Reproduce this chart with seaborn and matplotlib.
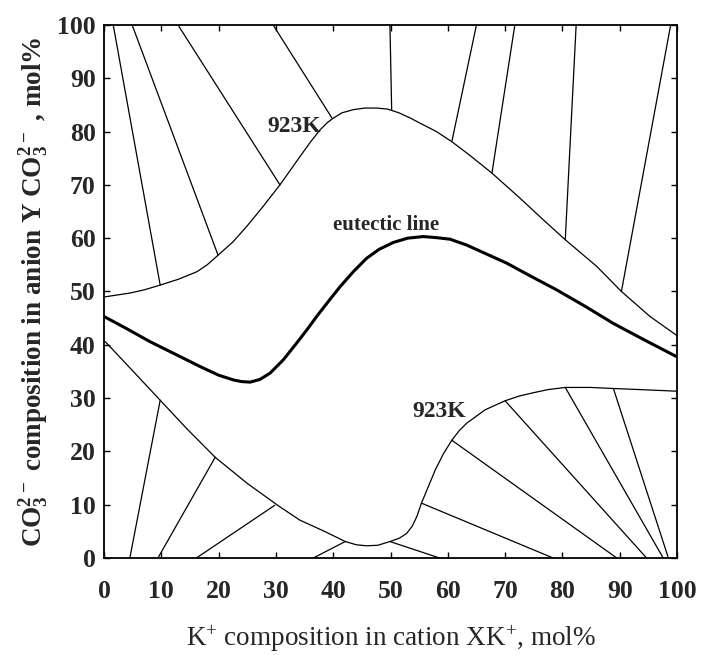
import numpy as np
import pandas as pd
import matplotlib
matplotlib.use("Agg")
import matplotlib.pyplot as plt
import seaborn as sns

# upper 923K liquidus
upper_x = [0.2, 4.5, 7.0, 9.8, 13.0, 16.2, 18.0, 19.9, 22.5, 24.9, 27.8, 30.7, 34.2, 36.0,
           37.7, 39.0, 40.0, 41.5, 43.5, 45.5, 47.6, 49.5, 51.5, 53.5, 55.1, 58.0, 60.7,
           64.0, 67.7, 72.6, 76.5, 80.5, 86.0, 90.3, 95.3, 99.9]
upper_y = [49.0, 49.7, 50.3, 51.2, 52.3, 53.7, 55.0, 56.8, 59.3, 62.2, 66.0, 70.0, 75.3, 78.0,
           80.3, 81.7, 82.5, 83.5, 84.1, 84.4, 84.4, 84.2, 83.5, 82.5, 81.6, 80.0, 78.1,
           75.4, 72.2, 67.5, 63.6, 59.7, 54.7, 50.0, 45.3, 41.8]

# eutectic line
eut_x = [0.0, 4.0, 8.0, 12.5, 16.8, 20.0, 22.6, 24.0, 25.5, 27.2, 29.0, 31.3, 33.6, 35.4,
         37.1, 39.2, 41.2, 43.5, 45.8, 48.0, 50.5, 53.0, 55.7, 58.0, 60.4, 63.3, 66.8,
         70.3, 74.6, 79.0, 84.0, 88.9, 94.5, 99.9]
eut_y = [45.3, 43.0, 40.6, 38.2, 35.9, 34.3, 33.4, 33.1, 33.0, 33.5, 34.7, 37.2, 40.3, 42.8,
         45.3, 48.2, 50.9, 53.7, 56.2, 57.9, 59.2, 60.0, 60.3, 60.1, 59.8, 58.7, 57.0,
         55.3, 52.8, 50.3, 47.2, 44.0, 40.8, 37.8]

# lower 923K liquidus
lower_x = [0.2, 5.1, 9.8, 14.5, 19.4, 25.0, 30.7, 34.2, 38.5, 42.1, 44.0, 45.8, 47.8, 49.9,
           51.5, 52.8, 53.8, 54.6, 55.4, 56.6, 57.8, 59.2, 60.7, 62.0, 63.3, 66.5, 70.0,
           72.5, 74.9, 77.5, 80.5, 85.0, 88.9, 93.5, 99.9]
lower_y = [40.6, 35.0, 29.6, 24.2, 18.9, 14.0, 9.6, 7.1, 5.0, 3.1, 2.5, 2.3, 2.4, 3.1,
           3.7, 4.6, 6.0, 7.8, 10.3, 13.4, 16.5, 19.5, 22.1, 23.9, 25.3, 27.8, 29.5,
           30.4, 31.0, 31.6, 32.0, 32.0, 31.8, 31.6, 31.3]

# tie lines: (x, y) on the liquidus -> (x, y) on the frame
tie_x0 = [9.8, 19.9, 30.7, 39.8, 50.2, 60.7, 67.7, 80.5, 90.3,
          9.8, 19.4, 29.8, 42.1, 49.9, 55.4, 60.7, 70.0, 80.5, 88.9]
tie_y0 = [51.2, 56.8, 70.0, 82.5, 84.1, 78.1, 72.2, 59.7, 50.0,
          29.6, 18.9, 9.9, 3.1, 3.1, 10.3, 22.1, 29.5, 32.0, 31.8]
tie_x1 = [1.6, 4.9, 12.9, 29.5, 49.9, 65.0, 71.7, 82.4, 98.9,
          4.5, 9.4, 16.1, 36.5, 58.6, 78.4, 89.5, 94.7, 97.6, 98.5]
tie_y1 = [100, 100, 100, 100, 100, 100, 100, 100, 100,
          0, 0, 0, 0, 0, 0, 0, 0, 0, 0]

ticks = list(range(0, 101, 10))

sns.set_theme(style="ticks")
plt.rcParams["font.family"] = ["Liberation Serif", "DejaVu Serif"]
plt.rcParams["mathtext.default"] = "regular"

fig = plt.figure(figsize=(7.03, 6.55), dpi=100)
ax = fig.add_axes([0.148, 0.148, 0.815, 0.814])

ties = pd.DataFrame({
    "tie": list(range(len(tie_x0))) * 2,
    "x": tie_x0 + tie_x1,
    "y": tie_y0 + tie_y1,
})
sns.lineplot(data=ties, x="x", y="y", units="tie", estimator=None, sort=False,
             color="black", linewidth=0.9, ax=ax)

sns.lineplot(x=upper_x, y=upper_y, sort=False, color="black", linewidth=0.9, ax=ax)
sns.lineplot(x=lower_x, y=lower_y, sort=False, color="black", linewidth=0.9, ax=ax)
sns.lineplot(x=eut_x, y=eut_y, sort=False, color="black", linewidth=2.2, ax=ax)

ax.text(33.2, 81.0, "923K", fontsize=17, fontweight="bold", ha="center", va="center")
ax.text(58.5, 27.4, "923K", fontsize=17, fontweight="bold", ha="center", va="center")
ax.text(49.3, 62.4, "eutectic line", fontsize=15, fontweight="bold", ha="center", va="center")

ax.set_xlim(0, 100)
ax.set_ylim(0, 100)
ax.set_xticks(ticks)
ax.set_yticks(ticks)
ax.tick_params(direction="in", top=True, right=True, length=4, width=1, color="black")
ax.tick_params(axis="x", pad=16, labelsize=18.5)
ax.tick_params(axis="y", pad=6, labelsize=18.5)
for lab in ax.get_xticklabels() + ax.get_yticklabels():
    lab.set_fontweight("bold")
for s in ax.spines.values():
    s.set_linewidth(1.3)
    s.set_color("black")

ax.set_xlabel("K$^{+}$ composition in cation XK$^{+}$, mol%", fontsize=19.5, labelpad=15)
ax.set_ylabel("CO$_3^{2-}$ composition in anion Y CO$_3^{2-}$ , mol%", fontsize=19.5,
              fontweight="bold")
ax.yaxis.set_label_coords(-0.092, 0.5)

fig.savefig("out.png", dpi=100)
